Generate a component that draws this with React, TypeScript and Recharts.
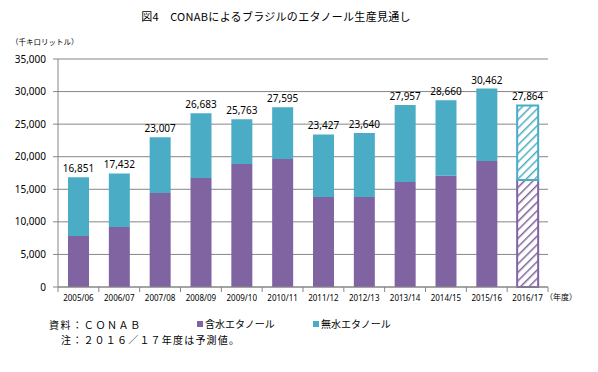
import { Bar, BarChart, CartesianGrid, Cell, LabelList, XAxis, YAxis } from 'recharts';

const categories = ['2005/06', '2006/07', '2007/08', '2008/09', '2009/10', '2010/11', '2011/12', '2012/13', '2013/14', '2014/15', '2015/16', '2016/17'];
// 含水エタノール (hydrous)
const hydrous = [7830, 9210, 14430, 16730, 18880, 19650, 13820, 13820, 16120, 17090, 19340, 16430];
// 無水エタノール (anhydrous)
const anhydrous = [9021, 8222, 8577, 9953, 6883, 7945, 9607, 9820, 11837, 11570, 11122, 11434];
// totals printed above each bar
const totals = [16851, 17432, 23007, 26683, 25763, 27595, 23427, 23640, 27957, 28660, 30462, 27864];
const forecast = [false, false, false, false, false, false, false, false, false, false, false, true];
const yTicks = [0, 5000, 10000, 15000, 20000, 25000, 30000, 35000];

const PURPLE = '#8064A2';
const TEAL = '#4BACC6';
const GRID = '#868686';
const JP = '"Noto Sans CJK JP", sans-serif';
const NUM = '"Noto Sans", sans-serif';

const W = 598;
const H = 372;
const PLOT_LEFT = 58;
const PLOT_RIGHT = 548;
const PLOT_BOTTOM = 287;
const BAND = (PLOT_RIGHT - PLOT_LEFT) / categories.length;

const data = categories.map((label, i) => ({
  label,
  hydrous: hydrous[i],
  anhydrous: anhydrous[i],
  total: totals[i],
  forecast: forecast[i],
}));

const fmt = (v: any) => Number(v).toLocaleString('en-US');

function XTick(props: any) {
  const { x, payload, index } = props;
  const left = x - BAND / 2;
  const right = x + BAND / 2;
  return (
    <g>
      <line x1={left} x2={left} y1={PLOT_BOTTOM} y2={PLOT_BOTTOM + 5} stroke={GRID} />
      {index === categories.length - 1 && (
        <line x1={right} x2={right} y1={PLOT_BOTTOM} y2={PLOT_BOTTOM + 5} stroke={GRID} />
      )}
      <text x={x} y={PLOT_BOTTOM + 14} textAnchor="middle" fontSize={8} fontFamily={NUM} fill="#000">
        {payload.value}
      </text>
    </g>
  );
}

export default function App() {
  return (
    <div style={{ position: 'absolute', left: 0, top: 0, width: W, height: H, background: '#fff' }}>
      <div style={{ position: 'absolute', left: 0, width: W - 46, top: 8, textAlign: 'center', fontFamily: JP, fontSize: 11, letterSpacing: 0.3, color: '#000' }}>
        図4　CONABによるブラジルのエタノール生産見通し
      </div>
      <div style={{ position: 'absolute', left: 11, top: 36, fontFamily: JP, fontSize: 7.5, color: '#000' }}>
        （千キロリットル）
      </div>
      <BarChart width={W} height={H} data={data} margin={{ top: 59, right: W - PLOT_RIGHT, left: 8, bottom: H - PLOT_BOTTOM - 20 }} barSize={21}>
        <defs>
          <pattern id="hatchPurple" width="6" height="6" patternUnits="userSpaceOnUse" patternTransform="rotate(45)">
            <rect width="6" height="6" fill="#fff" />
            <line x1="0" y1="0" x2="0" y2="6" stroke={PURPLE} strokeWidth={3} />
          </pattern>
          <pattern id="hatchTeal" width="6" height="6" patternUnits="userSpaceOnUse" patternTransform="rotate(45)">
            <rect width="6" height="6" fill="#fff" />
            <line x1="0" y1="0" x2="0" y2="6" stroke={TEAL} strokeWidth={3} />
          </pattern>
        </defs>
        <CartesianGrid vertical={false} stroke={GRID} />
        <XAxis dataKey="label" interval={0} height={20} stroke={GRID} tickLine={false} tick={<XTick />} />
        <YAxis
          width={50}
          domain={[0, 35000]}
          ticks={yTicks}
          interval={0}
          stroke={GRID}
          tickSize={5}
          tickMargin={7}
          tickFormatter={fmt}
          tick={{ fontSize: 10, fontFamily: NUM, fill: '#000' }}
        />
        <Bar dataKey="hydrous" name="含水エタノール" stackId="a" fill={PURPLE} isAnimationActive={false}>
          {data.map((d, i) => (
            <Cell key={i} fill={d.forecast ? 'url(#hatchPurple)' : PURPLE} stroke={d.forecast ? PURPLE : 'none'} strokeWidth={2} />
          ))}
        </Bar>
        <Bar dataKey="anhydrous" name="無水エタノール" stackId="a" fill={TEAL} isAnimationActive={false}>
          {data.map((d, i) => (
            <Cell key={i} fill={d.forecast ? 'url(#hatchTeal)' : TEAL} stroke={d.forecast ? TEAL : 'none'} strokeWidth={2} />
          ))}
          <LabelList dataKey="total" position="top" offset={5} formatter={fmt} style={{ fontSize: 10, fontFamily: NUM, fill: '#000' }} />
        </Bar>
      </BarChart>
      <div style={{ position: 'absolute', left: 545, top: 291, fontFamily: JP, fontSize: 8, color: '#000' }}>（年度）</div>
      <div style={{ position: 'absolute', left: 197, top: 316, fontFamily: JP, fontSize: 10, color: '#000', display: 'flex', alignItems: 'center' }}>
        <span style={{ display: 'inline-block', width: 6, height: 6, background: PURPLE, marginRight: 2 }} />
        含水エタノール
      </div>
      <div style={{ position: 'absolute', left: 313, top: 316, fontFamily: JP, fontSize: 10, color: '#000', display: 'flex', alignItems: 'center' }}>
        <span style={{ display: 'inline-block', width: 6, height: 6, background: TEAL, marginRight: 2 }} />
        無水エタノール
      </div>
      <div style={{ position: 'absolute', left: 49, top: 317, fontFamily: JP, fontSize: 10, letterSpacing: 1.6, color: '#000' }}>
        資料：ＣＯＮＡＢ
      </div>
      <div style={{ position: 'absolute', left: 61, top: 332, fontFamily: JP, fontSize: 10, letterSpacing: 1.2, color: '#000' }}>
        注：２０１６／１７年度は予測値。
      </div>
    </div>
  );
}
